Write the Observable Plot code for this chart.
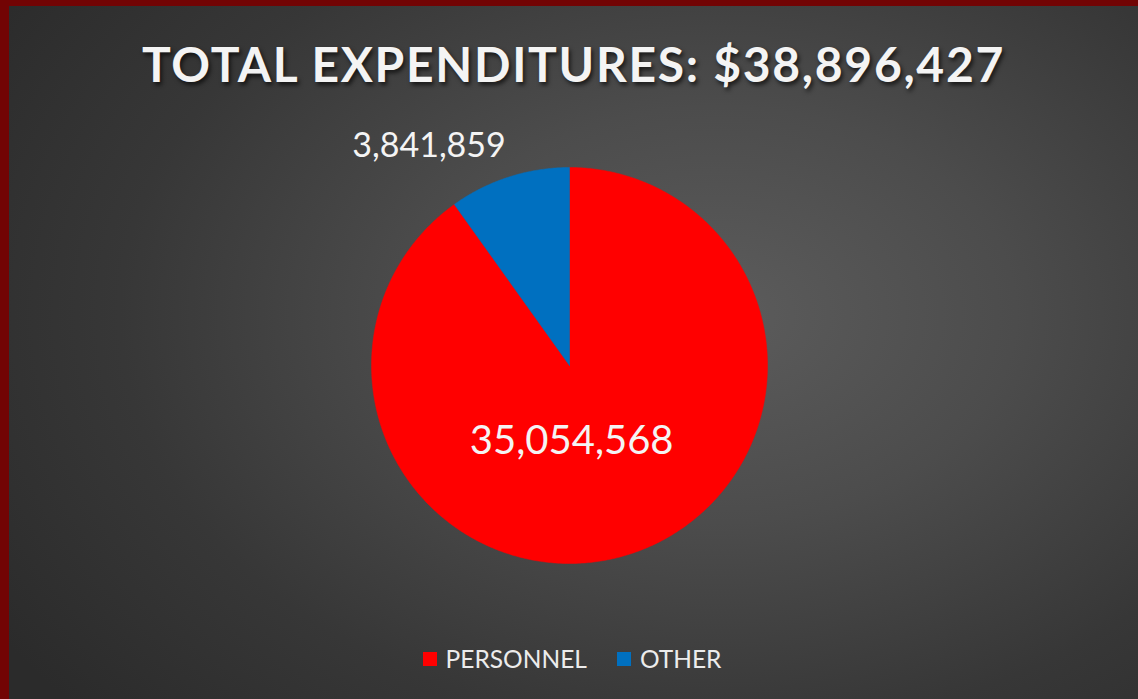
<!DOCTYPE html>
<html>
<head>
<meta charset="utf-8">
<script src="https://cdn.jsdelivr.net/npm/d3@7"></script>
<script src="https://cdn.jsdelivr.net/npm/@observablehq/plot@0.6"></script>
<style>
  html, body { margin: 0; padding: 0; }
  body { width: 1138px; height: 699px; overflow: hidden; }
  #page {
    position: relative; width: 1138px; height: 699px;
    background: radial-gradient(ellipse 75% 85% at 63% 45%, #5c5c5c 0%, #4c4c4c 35%, #373737 70%, #2b2b2b 100%);
    box-shadow: inset 9px 6px 0 #720404;
    font-family: Lato, "Open Sans", sans-serif;
  }
  #title {
    position: absolute; left: 9px; right: 0; top: 34px;
    text-align: center; color: #f4f4f4; font-weight: 700; font-size: 48px;
    line-height: 60px; letter-spacing: 1.7px;
    text-shadow: 2px 3px 4px rgba(0,0,0,0.65);
  }
  #chart { position: absolute; left: 0; top: 115px; }
  #legend {
    position: absolute; left: 0; right: 0; top: 644px;
    display: flex; justify-content: center; align-items: center; gap: 30px;
    padding-left: 6px;
    color: #ececec; font-size: 24.5px; line-height: 30px;
  }
  .item { display: flex; align-items: center; gap: 9px; }
  .sw { width: 14px; height: 14px; display: inline-block; }
</style>
</head>
<body>
<div id="page">
  <div id="title"></div>
  <div id="chart"></div>
  <div id="legend"></div>
</div>
<script>
const title = "TOTAL EXPENDITURES: $38,896,427";
const categories = ["PERSONNEL", "OTHER"];
const values = [35054568, 3841859];
const colors = ["#ff0000", "#0070c0"];
const labelText = ["35,054,568", "3,841,859"];

document.getElementById("title").textContent = title;

const data = categories.map((c, i) => ({category: c, value: values[i], label: labelText[i]}));
const arcs = d3.pie().sort(null).value(d => d.value)(data);

// polygon vertices in unit-circle space, derived from the pie angles
const poly = [];
for (const a of arcs) {
  const n = Math.max(2, Math.ceil((a.endAngle - a.startAngle) / (Math.PI / 360)));
  poly.push({category: a.data.category, px: 0, py: 0});
  for (let k = 0; k <= n; k++) {
    const t = a.startAngle + (a.endAngle - a.startAngle) * k / n;
    poly.push({category: a.data.category, px: Math.sin(t), py: Math.cos(t)});
  }
  poly.push({category: a.data.category, px: 0, py: 0});
}

const mid = a => (a.startAngle + a.endAngle) / 2;
const inside = arcs.filter(a => a.data.category === "PERSONNEL").map(a => ({
  text: a.data.label, px: Math.sin(mid(a)) * 0.4, py: Math.cos(mid(a)) * 0.4
}));
const outside = arcs.filter(a => a.data.category === "OTHER").map(a => ({
  text: a.data.label, px: Math.sin(mid(a)) * 1.12, py: Math.cos(mid(a)) * 1.12
}));

const W = 1138, H = 460;
const plot = Plot.plot({
  width: W, height: H,
  marginLeft: 371, marginRight: 371, marginTop: 52, marginBottom: 12,
  x: {domain: [-1, 1], axis: null},
  y: {domain: [-1, 1], axis: null},
  color: {domain: categories, range: colors},
  style: {background: "transparent", overflow: "visible"},
  marks: [
    Plot.line(poly, {x: "px", y: "py", z: "category", fill: "category", stroke: "category", strokeWidth: 0.5, curve: "linear"}),
    Plot.text(inside, {x: "px", y: "py", text: "text", fill: "#f4f4f4", fontSize: 40, fontFamily: "Lato", dx: -22}),
    Plot.text(outside, {x: "px", y: "py", text: "text", fill: "#f4f4f4", fontSize: 34, fontFamily: "Lato", textAnchor: "end", dx: 4, dy: -8})
  ]
});
document.getElementById("chart").appendChild(plot);

const legend = document.getElementById("legend");
categories.forEach((c, i) => {
  const it = document.createElement("div");
  it.className = "item";
  const sw = document.createElement("span");
  sw.className = "sw";
  sw.style.background = colors[i];
  const tx = document.createElement("span");
  tx.textContent = c;
  it.appendChild(sw); it.appendChild(tx);
  legend.appendChild(it);
});
</script>
</body>
</html>
